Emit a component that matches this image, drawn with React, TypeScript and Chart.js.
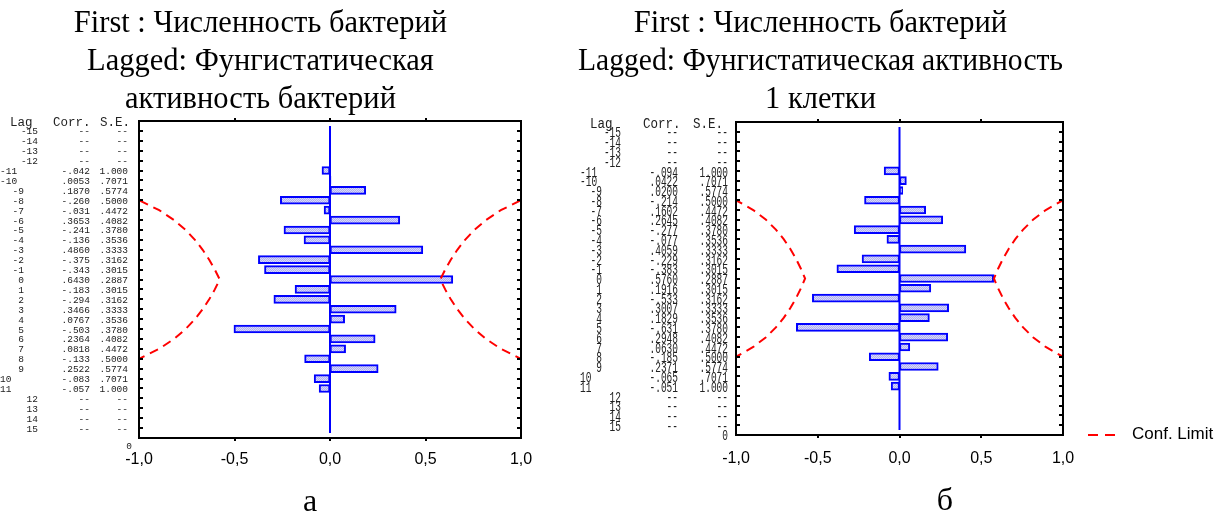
import React, { useEffect, useRef } from 'react';
import { Chart, registerables } from 'chart.js';

Chart.register(...registerables);

// Rows of the lag table (lags without an estimate are printed as "--")
const tableLags = [-15, -14, -13, -12, -11, -10, -9, -8, -7, -6, -5, -4, -3, -2, -1, 0, 1, 2, 3, 4, 5, 6, 7, 8, 9, 10, 11, 12, 13, 14, 15];
// Lags that carry a cross-correlation estimate
const activeLags = [-11, -10, -9, -8, -7, -6, -5, -4, -3, -2, -1, 0, 1, 2, 3, 4, 5, 6, 7, 8, 9, 10, 11];

// а: bacteria count vs. fungistatic activity of bacteria
const corrActivity = [-0.042, 0.0053, 0.187, -0.26, -0.031, 0.3653, -0.241, -0.136, 0.486, -0.375, -0.343, 0.643, -0.183, -0.294, 0.3466, 0.0767, -0.503, 0.2364, 0.0818, -0.133, 0.2522, -0.083, -0.057];
// б: bacteria count vs. fungistatic activity of one cell
const corrPerCell = [-0.094, 0.0422, 0.02, -0.214, 0.1602, 0.2645, -0.277, -0.077, 0.4059, -0.229, -0.383, 0.576, 0.1916, -0.533, 0.3007, 0.1829, -0.631, 0.2948, 0.063, -0.185, 0.2371, -0.065, -0.051];
// Standard errors per lag (same for both series)
const stdErrors = [1.0, 0.7071, 0.5774, 0.5, 0.4472, 0.4082, 0.378, 0.3536, 0.3333, 0.3162, 0.3015, 0.2887, 0.3015, 0.3162, 0.3333, 0.3536, 0.378, 0.4082, 0.4472, 0.5, 0.5774, 0.7071, 1.0];
const confMultiplier = 2;

const xTickStep = 0.5;
const titleActivity = ['First : Численность бактерий', 'Lagged: Фунгистатическая', 'активность бактерий'];
const titlePerCell = ['First : Численность бактерий', 'Lagged: Фунгистатическая активность', '1 клетки'];
const tableHeader = ['Lag', 'Corr.', 'S.E.'];
const legendLabel = 'Conf. Limit';

const BLUE = '#0000ff';
const RED = '#ff0000';

function fmtStat(v: number): string {
  const a = Math.abs(v);
  if (a >= 1) return v.toFixed(3);
  if (v < 0) return '-' + a.toFixed(3).slice(1);
  return a.toFixed(4).slice(1);
}

interface TableStyle {
  valueFont: string;
  headerFont: string;
  stretch: number;
  headerStretch: number;
  rowDy: number;
  headerDy: number;
  lagSingleRight: number;
  lagDoubleLeft: number;
  lagBlankRight: number;
  corrRight: number;
  seRight: number;
  headerX: number[];
  zero: number[];
}

interface PanelStyle {
  left: number;
  width: number;
  axisWidth: number;
  axisHeight: number;
  padRight: number;
  titlePadTop: number;
  titlePadBottom: number;
  tickPad: number;
  table: TableStyle;
  letterX: number;
  letterY: number;
  legend?: { x0: number; x1: number; y: number; textX: number };
}

function drawText(ctx: CanvasRenderingContext2D, text: string, x: number, y: number, align: CanvasTextAlign, stretch: number) {
  ctx.save();
  ctx.translate(x, y);
  ctx.scale(1, stretch);
  ctx.textAlign = align;
  ctx.textBaseline = 'middle';
  ctx.fillText(text, 0, 0);
  ctx.restore();
}

function CorrelogramPanel(props: { corr: number[]; title: string[]; letter: string; style: PanelStyle }) {
  const ref = useRef<HTMLCanvasElement>(null);
  const { corr, title, letter, style } = props;

  useEffect(() => {
    const canvas = ref.current!;
    const ctx = canvas.getContext('2d')!;

    // fine dithered fill of the bars
    const tile = document.createElement('canvas');
    tile.width = 2;
    tile.height = 2;
    const tctx = tile.getContext('2d')!;
    tctx.fillStyle = 'rgb(176,176,240)';
    tctx.fillRect(0, 0, 2, 2);
    tctx.fillStyle = 'rgb(216,216,250)';
    tctx.fillRect(0, 0, 1, 1);
    tctx.fillRect(1, 1, 1, 1);
    const hatch = ctx.createPattern(tile, 'repeat')!;

    const bars = activeLags.map((lag, i) => ({ x: corr[i], y: lag }));
    const upper = activeLags.map((lag, i) => ({ x: confMultiplier * stdErrors[i], y: lag }));
    const lower = activeLags.map((lag, i) => ({ x: -confMultiplier * stdErrors[i], y: lag }));
    const zeroLine = [
      { x: 0, y: tableLags[0] - 0.5 },
      { x: 0, y: tableLags[tableLags.length - 1] + 0.5 },
    ];

    const t = style.table;
    const decorations = {
      id: 'correlogramDecorations',
      afterDraw(chart: Chart) {
        const c = chart.ctx;
        const { left, right, top, bottom } = chart.chartArea;
        const xs = chart.scales.x;
        const ys = chart.scales.y;
        c.save();
        // frame with inward row ticks
        c.strokeStyle = '#000';
        c.lineWidth = 2;
        c.strokeRect(left, top, right - left, bottom - top);
        c.beginPath();
        for (let v = ys.min; v <= ys.max; v++) {
          const py = Math.round(ys.getPixelForValue(v));
          c.moveTo(left, py);
          c.lineTo(left + 4, py);
          c.moveTo(right - 4, py);
          c.lineTo(right, py);
        }
        for (let v = xs.min + xTickStep; v < xs.max - 1e-9; v += xTickStep) {
          const px = Math.round(xs.getPixelForValue(v));
          c.moveTo(px, top - 3);
          c.lineTo(px, top);
          c.moveTo(px, bottom);
          c.lineTo(px, bottom + 3);
        }
        c.stroke();

        // lag / correlation / standard error table beside the axis
        c.fillStyle = '#222';
        c.font = t.headerFont;
        const hy = ys.getPixelForValue(ys.min) + t.headerDy;
        tableHeader.forEach((h, i) => drawText(c, h, t.headerX[i], hy, 'left', t.headerStretch));
        c.font = t.valueFont;
        tableLags.forEach((lag) => {
          const py = ys.getPixelForValue(lag) + t.rowDy;
          const k = activeLags.indexOf(lag);
          const lagText = String(lag);
          if (k < 0) {
            drawText(c, lagText, t.lagBlankRight, py, 'right', t.stretch);
            drawText(c, '--', t.corrRight, py, 'right', t.stretch);
            drawText(c, '--', t.seRight, py, 'right', t.stretch);
          } else {
            if (Math.abs(lag) >= 10) drawText(c, lagText, t.lagDoubleLeft, py, 'left', t.stretch);
            else drawText(c, lagText, t.lagSingleRight, py, 'right', t.stretch);
            drawText(c, fmtStat(corr[k]), t.corrRight, py, 'right', t.stretch);
            drawText(c, fmtStat(stdErrors[k]), t.seRight, py, 'right', t.stretch);
          }
        });
        drawText(c, '0', t.zero[0], t.zero[1], 'center', t.stretch);

        // panel letter
        c.fillStyle = '#000';
        c.font = '32px "Liberation Serif"';
        c.textAlign = 'center';
        c.textBaseline = 'alphabetic';
        c.fillText(letter, style.letterX, style.letterY);

        // legend entry for the confidence limits
        if (style.legend) {
          const lg = style.legend;
          c.strokeStyle = RED;
          c.lineWidth = 2;
          c.setLineDash([10, 7]);
          c.beginPath();
          c.moveTo(lg.x0, lg.y);
          c.lineTo(lg.x1, lg.y);
          c.stroke();
          c.setLineDash([]);
          c.fillStyle = '#000';
          c.font = '17px "Liberation Sans"';
          c.textAlign = 'left';
          c.textBaseline = 'middle';
          c.fillText(legendLabel, lg.textX, lg.y - 1);
        }
        c.restore();
      },
    };

    const confLine = (data: { x: number; y: number }[]) =>
      ({
        type: 'line',
        label: legendLabel,
        data,
        borderColor: RED,
        borderWidth: 2,
        borderDash: [9, 6],
        pointRadius: 0,
        tension: 0,
        fill: false,
        clip: 0,
      } as any);

    const chart = new Chart(canvas, {
      type: 'bar',
      data: {
        datasets: [
          confLine(upper),
          confLine(lower),
          {
            type: 'line',
            label: 'zero',
            data: zeroLine,
            borderColor: BLUE,
            borderWidth: 2,
            pointRadius: 0,
            fill: false,
          } as any,
          {
            type: 'bar',
            label: 'Corr.',
            indexAxis: 'y',
            data: bars,
            backgroundColor: hatch,
            borderColor: BLUE,
            borderWidth: 2,
            borderSkipped: false,
            barThickness: 8,
          } as any,
        ],
      },
      options: {
        animation: false,
        responsive: false,
        events: [],
        layout: { padding: { left: 0, right: style.padRight, top: 0, bottom: 0 } },
        plugins: {
          legend: { display: false },
          tooltip: { enabled: false },
          title: {
            display: true,
            text: title,
            color: '#000',
            font: { family: 'Liberation Serif', size: 30.5, weight: 'normal', lineHeight: 38 / 30.5 },
            padding: { top: style.titlePadTop, bottom: style.titlePadBottom },
          },
        },
        scales: {
          x: {
            type: 'linear',
            offset: false,
            min: -1,
            max: 1,
            ticks: {
              stepSize: xTickStep,
              color: '#000',
              padding: style.tickPad,
              font: { family: 'Liberation Sans', size: 16 },
              callback: (v: any) => Number(v).toFixed(1).replace('.', ','),
            },
            grid: { display: false, drawTicks: false, offset: false },
            border: { display: false },
            afterFit: (s: any) => {
              s.height = style.axisHeight;
              // end labels may hang past the plot edges
              s.paddingLeft = 0;
              s.paddingRight = 0;
            },
          },
          y: {
            type: 'linear',
            offset: false,
            reverse: true,
            min: tableLags[0] - 1,
            max: tableLags[tableLags.length - 1] + 1,
            ticks: { display: false, stepSize: 1 },
            grid: { display: false, drawTicks: false, offset: false },
            border: { display: false },
            afterFit: (s: any) => {
              s.width = style.axisWidth;
            },
          },
        },
      } as any,
      plugins: [decorations],
    });
    return () => chart.destroy();
  }, []);

  return (
    <canvas
      ref={ref}
      width={style.width}
      height={516}
      style={{ position: 'absolute', left: style.left, top: 0, width: style.width, height: 516 }}
    />
  );
}

const styleActivity: PanelStyle = {
  left: 0,
  width: 535,
  axisWidth: 139,
  axisHeight: 78,
  padRight: 14,
  titlePadTop: 5,
  titlePadBottom: 2,
  tickPad: 12,
  table: {
    valueFont: '9.5px "Liberation Mono"',
    headerFont: '12.5px "Liberation Mono"',
    stretch: 1,
    headerStretch: 1,
    rowDy: 1,
    headerDy: 2,
    lagSingleRight: 24,
    lagDoubleLeft: 0,
    lagBlankRight: 38,
    corrRight: 90,
    seRight: 128,
    headerX: [10, 53, 100],
    zero: [129, 446],
  },
  letterX: 310,
  letterY: 511,
};

const stylePerCell: PanelStyle = {
  left: 578,
  width: 646,
  axisWidth: 158,
  axisHeight: 81,
  padRight: 161,
  titlePadTop: 5,
  titlePadBottom: 3,
  tickPad: 14,
  table: {
    valueFont: '9.5px "Liberation Mono"',
    headerFont: '12.5px "Liberation Mono"',
    stretch: 1.45,
    headerStretch: 1.15,
    rowDy: 2,
    headerDy: 2,
    lagSingleRight: 24,
    lagDoubleLeft: 2,
    lagBlankRight: 43,
    corrRight: 100,
    seRight: 150,
    headerX: [12, 65, 115],
    zero: [147, 436],
  },
  letterX: 367,
  letterY: 510,
  legend: { x0: 510, x1: 537, y: 435, textX: 554 },
};

export default function App() {
  return (
    <div style={{ position: 'absolute', left: 0, top: 0, width: 1224, height: 516, background: '#fff', overflow: 'hidden' }}>
      <CorrelogramPanel corr={corrActivity} title={titleActivity} letter="а" style={styleActivity} />
      <CorrelogramPanel corr={corrPerCell} title={titlePerCell} letter="б" style={stylePerCell} />
    </div>
  );
}
